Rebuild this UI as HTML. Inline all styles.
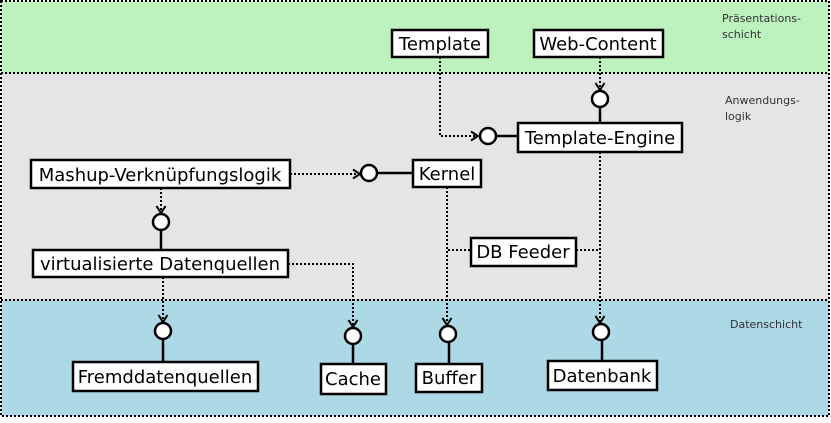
<!DOCTYPE html>
<html><head><meta charset="utf-8"><style>
body{margin:0;background:#fff}
svg text{font-family:"DejaVu Sans",sans-serif}
</style></head><body>
<svg width="831" height="418" xmlns="http://www.w3.org/2000/svg">
<defs>
<marker id="a" markerWidth="12" markerHeight="12" refX="9" refY="6" orient="auto" markerUnits="userSpaceOnUse">
<path d="M2,1.5 L9,6 L2,10.5" fill="none" stroke="#000" stroke-width="2"/></marker>
</defs>
<rect x="1" y="1" width="828" height="72" fill="#bdf2bf"/>
<rect x="1" y="73" width="828" height="227" fill="#e5e5e5"/>
<rect x="1" y="300" width="828" height="116" fill="#add8e6"/>
<g stroke="#000" stroke-width="2" stroke-dasharray="2,2" fill="none">
<rect x="1" y="1" width="828" height="415"/>
<line x1="1" y1="73" x2="829" y2="73"/>
<line x1="1" y1="300" x2="829" y2="300"/>
</g>
<g font-size="11" fill="#333">
<text x="722" y="22">Präsentations-</text>
<text x="722" y="38">schicht</text>
<text x="725" y="104">Anwendungs-</text>
<text x="725" y="120">logik</text>
<text x="730" y="328">Datenschicht</text>
</g>
<g stroke="#000" stroke-width="2" stroke-dasharray="2,2" fill="none">
<polyline points="440,57 440,136 478,136" marker-end="url(#a)"/>
<line x1="600" y1="57" x2="600" y2="90" marker-end="url(#a)"/>
<line x1="290" y1="174" x2="360" y2="174" marker-end="url(#a)"/>
<line x1="161" y1="188" x2="161" y2="213" marker-end="url(#a)"/>
<line x1="163" y1="277" x2="163" y2="322" marker-end="url(#a)"/>
<polyline points="288,264 353,264 353,327" marker-end="url(#a)"/>
<line x1="447" y1="187" x2="447" y2="325" marker-end="url(#a)"/>
<line x1="600" y1="152" x2="600" y2="323" marker-end="url(#a)"/>
<line x1="448" y1="250" x2="471" y2="250"/>
<line x1="576" y1="250" x2="600" y2="250"/>
</g>
<g stroke="#000" stroke-width="2.5">
<line x1="600" y1="107" x2="600" y2="123"/>
<line x1="496" y1="136" x2="518" y2="136"/>
<line x1="377" y1="173" x2="413" y2="173"/>
<line x1="161" y1="230" x2="161" y2="250"/>
<line x1="163" y1="339" x2="163" y2="362"/>
<line x1="353" y1="344" x2="353" y2="364"/>
<line x1="449" y1="342" x2="449" y2="364"/>
<line x1="602" y1="340" x2="602" y2="361"/>
</g>
<g stroke="#000" stroke-width="2.5" fill="#fff">
<circle cx="600" cy="99" r="8"/>
<circle cx="488" cy="136" r="8"/>
<circle cx="369" cy="173" r="8"/>
<circle cx="161" cy="222" r="8"/>
<circle cx="163" cy="331" r="8"/>
<circle cx="353" cy="336" r="8"/>
<circle cx="448" cy="334" r="8"/>
<circle cx="601" cy="332" r="8"/>
</g>
<g stroke="#000" stroke-width="2.5" fill="#fff">
<rect x="392" y="30" width="96" height="27"/>
<rect x="534" y="30" width="129" height="27"/>
<rect x="518" y="123" width="164" height="29"/>
<rect x="413" y="160" width="68" height="27"/>
<rect x="31" y="160" width="259" height="28"/>
<rect x="33" y="250" width="255" height="27"/>
<rect x="471" y="238" width="105" height="28"/>
<rect x="73" y="362" width="185" height="29"/>
<rect x="321" y="364" width="65" height="30"/>
<rect x="416" y="364" width="66" height="28"/>
<rect x="548" y="361" width="109" height="29"/>
</g>
<g font-size="18" fill="#000" text-anchor="middle">
<text x="440" y="50">Template</text>
<text x="598" y="50">Web-Content</text>
<text x="600" y="144">Template-Engine</text>
<text x="447" y="180">Kernel</text>
<text x="160" y="181">Mashup-Verknüpfungslogik</text>
<text x="160" y="270">virtualisierte Datenquellen</text>
<text x="523" y="258">DB Feeder</text>
<text x="165" y="383">Fremddatenquellen</text>
<text x="353" y="385">Cache</text>
<text x="449" y="384">Buffer</text>
<text x="602" y="382">Datenbank</text>
</g>
</svg>
</body></html>
